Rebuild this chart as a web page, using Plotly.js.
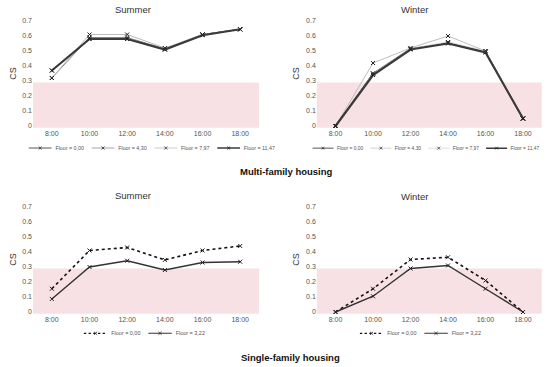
<!DOCTYPE html>
<html>
<head>
<meta charset="utf-8">
<script src="https://cdn.plot.ly/plotly-3.0.1.min.js"></script>
<style>html,body{margin:0;padding:0;background:#fff;}#chart{width:550px;height:367px;}</style>
</head>
<body>
<div id="chart"></div>
<script>
const hours = ["8:00", "10:00", "12:00", "14:00", "16:00", "18:00"];
const yTicks = [0, 0.1, 0.2, 0.3, 0.4, 0.5, 0.6, 0.7];
const yTickText = ["0", "0.1", "0.2", "0.3", "0.4", "0.5", "0.6", "0.7"];

// Multi-family housing
const multiNames = ["Floor = 0,00", "Floor = 4,30", "Floor = 7,97", "Floor = 11,47"];
const multiSummer00 = [0.37, 0.58, 0.58, 0.51, 0.61, 0.645];
const multiSummer430 = [0.32, 0.59, 0.59, 0.515, 0.61, 0.645];
const multiSummer797 = [0.32, 0.61, 0.61, 0.52, 0.61, 0.645];
const multiSummer1147 = [0.37, 0.58, 0.58, 0.51, 0.605, 0.645];
const multiWinter00 = [0, 0.35, 0.515, 0.555, 0.495, 0.05];
const multiWinter430 = [0, 0.42, 0.52, 0.60, 0.50, 0.05];
const multiWinter797 = [0, 0.35, 0.515, 0.56, 0.50, 0.05];
const multiWinter1147 = [0, 0.34, 0.51, 0.55, 0.49, 0.05];

// Single-family housing
const singleNames = ["Floor = 0,00", "Floor = 3,22"];
const singleSummer00 = [0.155, 0.41, 0.43, 0.347, 0.41, 0.44];
const singleSummer322 = [0.087, 0.30, 0.342, 0.28, 0.33, 0.335];
const singleWinter00 = [0, 0.155, 0.35, 0.365, 0.21, 0];
const singleWinter322 = [0, 0.105, 0.29, 0.31, 0.155, 0];

const threshold = 0.29;

const multiStyles = [
  {color: "#222", width: 1},
  {color: "#888", width: 1},
  {color: "#bbb", width: 1},
  {color: "#3a3a3a", width: 2.2}
];
const multiStylesW = [
  {color: "#333", width: 1.2},
  {color: "#bdbdbd", width: 1},
  {color: "#cfcfcf", width: 1},
  {color: "#3a3a3a", width: 2.2}
];

function tr(y, name, style, xa, ya, leg, dash) {
  return {
    x: hours, y: y, name: name, type: "scatter", mode: "lines+markers",
    xaxis: xa, yaxis: ya, legend: leg,
    line: {color: style.color, width: style.width, dash: dash || "solid"},
    marker: {symbol: "x-thin", size: 4, color: "#222", line: {color: "#222", width: 1}},
    hoverinfo: "skip"
  };
}

const data = [];
[multiSummer00, multiSummer430, multiSummer797, multiSummer1147].forEach((s, i) =>
  data.push(tr(s, multiNames[i], multiStyles[i], "x", "y", "legend")));
[multiWinter00, multiWinter430, multiWinter797, multiWinter1147].forEach((s, i) =>
  data.push(tr(s, multiNames[i], multiStylesW[i], "x2", "y2", "legend2")));
data.push(tr(singleSummer00, singleNames[0], {color: "#111", width: 1.6}, "x3", "y3", "legend3", "dot"));
data.push(tr(singleSummer322, singleNames[1], {color: "#333", width: 1.4}, "x3", "y3", "legend3"));
data.push(tr(singleWinter00, singleNames[0], {color: "#111", width: 1.6}, "x4", "y4", "legend4", "dot"));
data.push(tr(singleWinter322, singleNames[1], {color: "#333", width: 1.4}, "x4", "y4", "legend4"));

const font = "Liberation Sans, Arial, sans-serif";
function xax(dom, anchor) {
  return {domain: dom, anchor: anchor, type: "category", range: [-0.5, 5.5],
    showline: false, showgrid: false, zeroline: false, ticks: "",
    tickfont: {size: 7, color: "#555"}, fixedrange: true};
}
function yax(dom, anchor) {
  return {domain: dom, anchor: anchor, range: [-0.015, 0.715],
    tickvals: yTicks, ticktext: yTickText,
    showline: false, showgrid: false, zeroline: false, ticks: "",
    tickfont: {size: 7, color: "#555"},
    title: {text: "CS", font: {size: 9, color: "#333"}, standoff: 4}, fixedrange: true};
}
const topY = [0.6505, 0.9489];
const botY = [0.1437, 0.4421];

function band(xr, yr) {
  return {type: "rect", xref: xr + " domain", yref: yr, x0: 0, x1: 1, y0: -0.012, y1: threshold,
    fillcolor: "#f8e1e4", line: {width: 0}, layer: "below"};
}
// final left edge (px) and scale for each legend
const legendLeft = {legend: 25, legend2: 309, legend3: 80, legend4: 356};
const legendScale = {legend: 0.76, legend2: 0.70, legend3: 0.78, legend4: 0.78};
function legend(ypx) {
  return {orientation: "h", x: 0, y: 1 - ypx / 367, xanchor: "left", yanchor: "top",
    font: {size: 7, color: "#555", family: font}, itemwidth: 30, bgcolor: "rgba(0,0,0,0)", tracegroupgap: 0};
}
function ann(text, xpx, ypx, size, color) {
  return {text: text, x: xpx / 550, y: 1 - ypx / 367, xref: "paper", yref: "paper",
    xanchor: "center", yanchor: "middle", showarrow: false, font: {size: size, color: color}};
}

const layout = {
  width: 550, height: 367,
  margin: {l: 0, r: 0, t: 0, b: 0, autoexpand: false},
  paper_bgcolor: "#fff", plot_bgcolor: "#fff",
  font: {family: font, color: "#333"},
  showlegend: true,
  xaxis: xax([0.06, 0.471], "y"),
  yaxis: yax(topY, "x"),
  xaxis2: xax([0.576, 0.985], "y2"),
  yaxis2: yax(topY, "x2"),
  xaxis3: xax([0.06, 0.471], "y3"),
  yaxis3: yax(botY, "x3"),
  xaxis4: xax([0.576, 0.985], "y4"),
  yaxis4: yax(botY, "x4"),
  legend: legend(137),
  legend2: legend(138),
  legend3: legend(322),
  legend4: legend(322),
  shapes: [band("x", "y"), band("x2", "y2"), band("x3", "y3"), band("x4", "y4")],
  annotations: [
    ann("Summer", 133, 10, 9.5, "#333"),
    ann("Winter", 414, 10, 9.5, "#333"),
    ann("Summer", 133, 195, 9.5, "#333"),
    ann("Winter", 414, 196, 9.5, "#333"),
    ann("<b>Multi-family housing</b>", 286, 171, 9.5, "#111"),
    ann("<b>Single-family housing</b>", 290, 357, 9.5, "#111")
  ]
};

Plotly.newPlot("chart", data, layout, {displayModeBar: false, staticPlot: true}).then(function (gd) {
  gd.querySelectorAll(".infolayer > g").forEach(function (g) {
    const c = g.getAttribute("class") || "";
    if (/^legend\d*$/.test(c) && legendLeft[c] !== undefined) {
      const t = g.getAttribute("transform") || "";
      const m = t.match(/translate\(\s*([-\d.e]+)[ ,]+([-\d.e]+)\s*\)/);
      const ty = m ? parseFloat(m[2]) : 0;
      g.setAttribute("transform", "translate(" + legendLeft[c] + "," + ty + ") scale(" + legendScale[c] + ")");
    }
  });
});
</script>
</body>
</html>
